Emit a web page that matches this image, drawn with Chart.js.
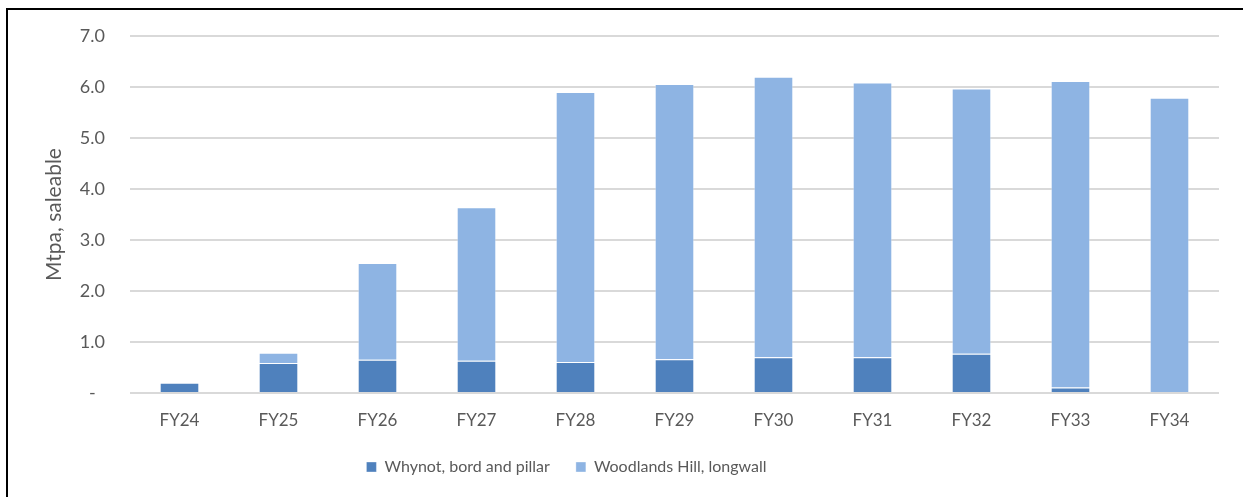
<!DOCTYPE html>
<html>
<head>
<meta charset="utf-8">
<script src="https://cdn.jsdelivr.net/npm/chart.js@4"></script>
<style>
    html, body { margin: 0; padding: 0; background: #fff; }
    #frame {
        position: absolute; left: 6px; top: 8px; right: 0; bottom: 0;
        border-left: 2px solid #000; border-top: 2px solid #000;
    }
    #wrap { position: absolute; left: 0; top: 0; width: 1243px; height: 497px; }
</style>
</head>
<body>
<div id="frame"></div>
<div id="wrap"><canvas id="productionChart"></canvas></div>
<script>
/*** Data ***/
const years = ['FY24', 'FY25', 'FY26', 'FY27', 'FY28', 'FY29', 'FY30', 'FY31', 'FY32', 'FY33', 'FY34'];
const whynot = [0.20, 0.59, 0.65, 0.63, 0.61, 0.66, 0.70, 0.70, 0.77, 0.11, 0];
const woodlands = [0, 0.20, 1.90, 3.01, 5.29, 5.40, 5.50, 5.39, 5.20, 6.01, 5.79];
const yTicks = [0, 1, 2, 3, 4, 5, 6, 7];

/*** Styles ***/
const textGrey = '#595959';
const gridGrey = '#d9d9d9';
Chart.defaults.font.family = 'Lato, "Open Sans", sans-serif';
Chart.defaults.color = textGrey;

// nudge legend left, the original centres it off the plot
const legendShift = {
    id: 'legendShift',
    afterLayout(chart) {
        chart.legend.left -= 64;
        chart.legend.right -= 64;
    }
};

const ctx = document.getElementById('productionChart');
new Chart(ctx, {
    type: 'bar',
    data: {
        labels: years,
        datasets: [
            {
                label: 'Whynot, bord and pillar',
                data: whynot,
                backgroundColor: '#4f81bd',
                borderColor: 'rgba(255,255,255,0.35)',
                borderWidth: 1,
                barPercentage: 0.4,
                categoryPercentage: 1
            },
            {
                label: 'Woodlands Hill, longwall',
                data: woodlands,
                backgroundColor: '#8eb4e3',
                borderColor: 'rgba(255,255,255,0.35)',
                borderWidth: 1,
                barPercentage: 0.4,
                categoryPercentage: 1
            }
        ]
    },
    options: {
        responsive: true,
        maintainAspectRatio: false,
        animation: false,
        layout: {
            padding: { left: 42, right: 24, top: 36, bottom: 12 }
        },
        plugins: {
            legend: {
                position: 'bottom',
                labels: {
                    boxWidth: 10,
                    boxHeight: 10,
                    padding: 26,
                    color: textGrey,
                    font: { size: 16 }
                }
            },
            tooltip: { enabled: false }
        },
        scales: {
            x: {
                stacked: true,
                grid: { display: false, drawTicks: false },
                border: { display: false },
                ticks: {
                    padding: 17,
                    color: textGrey,
                    font: { size: 17 }
                },
                afterFit: function (scale) {
                    scale.height = 40;
                }
            },
            y: {
                stacked: true,
                min: 0,
                max: 7,
                afterBuildTicks: function (scale) {
                    scale.ticks = yTicks.map(v => ({ value: v }));
                },
                grid: {
                    color: gridGrey,
                    lineWidth: 2,
                    drawTicks: false
                },
                border: { display: false },
                ticks: {
                    padding: 25,
                    color: textGrey,
                    font: { size: 18 },
                    callback: function (value) {
                        return value === 0 ? '-  ' : value.toFixed(1);
                    }
                },
                title: {
                    display: true,
                    text: 'Mtpa, saleable',
                    color: textGrey,
                    font: { size: 21 },
                    padding: 0
                },
                afterFit: function (scale) {
                    scale.width = 88;
                }
            }
        }
    },
    plugins: [legendShift]
});
</script>
</body>
</html>
